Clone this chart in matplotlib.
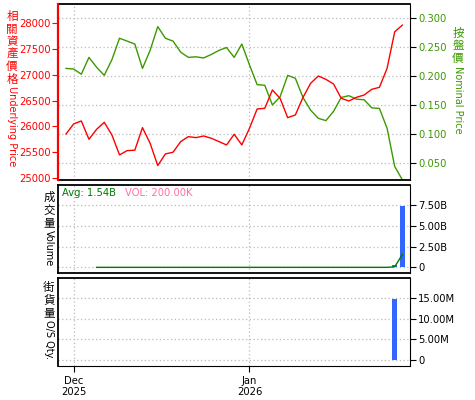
import matplotlib
matplotlib.use("Agg")
import matplotlib.pyplot as plt
import pandas as pd

# trading-day index on x, ticks at first trading day of each month
tick_pos = [1, 24]
tick_labels = ["Dec\n2025", "Jan\n2026"]

# underlying price (left axis)
underlying = [25852, 26046, 26104, 25749, 25942, 26078, 25833, 25446, 25530, 25537,
              25975, 25672, 25239, 25465, 25498, 25704, 25800, 25781, 25813, 25769,
              25704, 25639, 25846, 25639, 25962, 26336, 26349, 26704, 26543, 26168,
              26220, 26560, 26833, 26975, 26910, 26820, 26543, 26491, 26562, 26607,
              26717, 26756, 27123, 27832, 27961]

# nominal price (right axis)
nominal = [0.213, 0.212, 0.203, 0.232, 0.215, 0.201, 0.228, 0.265, 0.260, 0.255,
           0.213, 0.244, 0.285, 0.265, 0.260, 0.241, 0.232, 0.233, 0.231, 0.237,
           0.244, 0.249, 0.232, 0.255, 0.219, 0.185, 0.184, 0.150, 0.164, 0.201,
           0.196, 0.163, 0.141, 0.127, 0.123, 0.139, 0.163, 0.166, 0.160, 0.159,
           0.145, 0.144, 0.110, 0.044, 0.021]

# volume in billions
volume = [0, 0, 0, 0, 0, 0, 0, 0, 0, 0,
          0, 0, 0, 0, 0, 0, 0, 0, 0, 0,
          0, 0, 0, 0, 0, 0, 0, 0, 0, 0,
          0, 0, 0, 0, 0, 0, 0, 0, 0, 0,
          0, 0, 0, 0.33, 7.4]

# outstanding quantity in millions
os_qty = [0, 0, 0, 0, 0, 0, 0, 0, 0, 0,
          0, 0, 0, 0, 0, 0, 0, 0, 0, 0,
          0, 0, 0, 0, 0, 0, 0, 0, 0, 0,
          0, 0, 0, 0, 0, 0, 0, 0, 0, 0,
          0, 0, 0, 14.8, 0]

RED = "#ff0000"
GREEN = "#3c9900"
DKGREEN = "#007a00"
BLUE = "#3366ff"
PINK = "#ff6fa8"
GRID = "#bbbbbb"
CJK = ["Noto Sans CJK TC", "DejaVu Sans"]
FS = 7.2

plt.rcParams["font.family"] = ["DejaVu Sans"]

x = list(range(len(underlying)))
ma5 = pd.Series(volume).rolling(5).mean()

fig = plt.figure(figsize=(4.75, 4.0), dpi=100)
W, H = 475.0, 400.0
renderer = fig.canvas.get_renderer()


def box(left, top, right, bottom):
    return [left / W, 1 - bottom / H, (right - left) / W, (bottom - top) / H]


def style_panel(ax, dotted=("top", "bottom", "left")):
    for s in dotted:
        ax.spines[s].set_linestyle((0, (1, 1)))
        ax.spines[s].set_linewidth(1.3)
    ax.set_xlim(-1.05, 45.0)
    ax.set_xticks(tick_pos)
    ax.grid(True, color=GRID, linestyle=(0, (1, 2)), linewidth=0.9)
    ax.set_axisbelow(True)


def vlabel(xp, top, cjk, latin, color):
    # CJK characters stacked upright, latin part rotated like a vertical caption
    t = fig.text(xp / W, 1 - top / H, "\n".join(cjk), family=CJK, fontsize=8.3,
                 color=color, ha="center", va="top", linespacing=0.95)
    bb = t.get_window_extent(renderer=renderer)
    fig.text(xp / W, (bb.y0 - 1) / H, latin, family=["DejaVu Sans"],
             fontsize=7.0, color=color, ha="center", va="top", rotation=270)


# --- top panel: nominal (right, with grid) and underlying (left)
ax1 = fig.add_axes(box(58, 4, 410, 180))
ax1l = ax1.twinx()
style_panel(ax1, dotted=("top", "bottom"))
ax1.plot(x, nominal, color=GREEN, linewidth=1.0)
ax1.set_ylim(0.0207, 0.324)
ax1.set_yticks([0.05, 0.10, 0.15, 0.20, 0.25, 0.30])
ax1.set_yticklabels(["0.050", "0.100", "0.150", "0.200", "0.250", "0.300"])
ax1.yaxis.tick_right()
ax1.tick_params(axis="y", colors="black", labelcolor=GREEN, labelsize=FS,
                length=4, pad=2)
ax1.tick_params(axis="x", length=0, labelbottom=False)
ax1.spines["left"].set_visible(False)

ax1l.plot(x, underlying, color=RED, linewidth=1.0)
ax1l.set_ylim(24960, 28370)
ax1l.set_yticks([25000, 25500, 26000, 26500, 27000, 27500, 28000])
ax1l.yaxis.tick_left()
ax1l.tick_params(axis="y", colors=RED, labelsize=FS, length=4, pad=1)
ax1l.spines["left"].set_color(RED)
ax1l.spines["left"].set_linewidth(1.6)
ax1l.spines["left"].set_visible(True)
for s in ("top", "bottom", "right"):
    ax1l.spines[s].set_visible(False)

# --- middle panel: volume
ax2 = fig.add_axes(box(58, 185, 410, 273))
style_panel(ax2)
ax2.bar(x, volume, width=0.65, color=BLUE)
ax2.plot(x, ma5, color=DKGREEN, linewidth=1.0)
ax2.set_ylim(-0.68, 9.9)
ax2.set_yticks([0, 2.5, 5.0, 7.5])
ax2.set_yticklabels(["0", "2.50B", "5.00B", "7.50B"])
ax2.yaxis.tick_right()
ax2.tick_params(axis="y", labelsize=FS, length=4, pad=2)
ax2.tick_params(axis="x", length=0, labelbottom=False)
ax2.text(0.012, 0.965, "Avg: 1.54B", transform=ax2.transAxes, color=DKGREEN,
         fontsize=FS, va="top", ha="left")
ax2.text(0.19, 0.965, "VOL: 200.00K", transform=ax2.transAxes, color=PINK,
         fontsize=FS, va="top", ha="left")

# --- bottom panel: outstanding quantity
ax3 = fig.add_axes(box(58, 278, 410, 366))
style_panel(ax3, dotted=("top", "left"))
ax3.bar(x, os_qty, width=0.65, color=BLUE)
ax3.set_ylim(-1.46, 19.9)
ax3.set_yticks([0, 5, 10, 15])
ax3.set_yticklabels(["0", "5.00M", "10.00M", "15.00M"])
ax3.yaxis.tick_right()
ax3.tick_params(axis="y", labelsize=FS, length=4, pad=2)
ax3.set_xticklabels(tick_labels)
ax3.tick_params(axis="x", labelsize=FS, length=4, pad=3)

vlabel(12, 10, "相關資產價格", "Underlying Price", RED)
vlabel(458, 27, "按盤價", "Nominal Price", GREEN)
vlabel(49, 191, "成交量", "Volume", "black")
vlabel(49, 281, "街貨量", "O/S Qty.", "black")

fig.savefig("out.png", dpi=100)
